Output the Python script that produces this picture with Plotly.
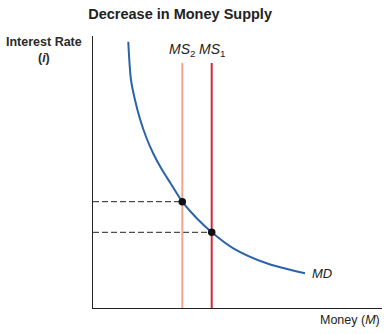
import plotly.graph_objects as go

# MD curve points (x = money, y = interest rate)
md_x = [35.3, 36.3, 38.0, 42.0, 47.0, 53.5, 60.0, 68.0, 78.0, 89.3, 103.0, 118.7, 140.3, 173.7, 212.0]
md_y = [266.3, 248.0, 228.0, 208.0, 189.0, 170.0, 155.0, 140.0, 124.0, 106.3, 90.5, 75.7, 59.7, 44.7, 34.7]

ms_x = [89.3, 118.7]
ms_top = 245.0
ms_colors = ["#f2a68c", "#d02a38"]

eq_x = [89.3, 118.7]
eq_y = [106.3, 75.7]

fig = go.Figure()

# dashed guides
for x, y in zip(eq_x, eq_y):
    fig.add_trace(go.Scatter(x=[0, x], y=[y, y], mode="lines",
                             line=dict(color="#222", width=1, dash="6px,3px"),
                             hoverinfo="skip", showlegend=False))

# MS lines
for x, c in zip(ms_x, ms_colors):
    fig.add_trace(go.Scatter(x=[x, x], y=[0, ms_top], mode="lines",
                             line=dict(color=c, width=2),
                             hoverinfo="skip", showlegend=False))

# MD curve
fig.add_trace(go.Scatter(x=md_x, y=md_y, mode="lines",
                         line=dict(color="#2b63ab", width=2, shape="spline", smoothing=0.8),
                         hoverinfo="skip", showlegend=False))

# equilibrium dots
fig.add_trace(go.Scatter(x=eq_x, y=eq_y, mode="markers",
                         marker=dict(color="#111111", size=7.5),
                         hoverinfo="skip", showlegend=False))

fnt = "Liberation Sans, Arial, sans-serif"
ann = [
    dict(x=ms_x[0], y=ms_top + 2, text="<i>MS</i><sub>2</sub>", showarrow=False,
         xanchor="center", yanchor="bottom", font=dict(size=14, family=fnt, color="#222")),
    dict(x=ms_x[1], y=ms_top + 2, text="<i>MS</i><sub>1</sub>", showarrow=False,
         xanchor="center", yanchor="bottom", font=dict(size=14, family=fnt, color="#222")),
    dict(x=md_x[-1] + 5, y=md_y[-1], text="<i>MD</i>", showarrow=False,
         xanchor="left", yanchor="middle", font=dict(size=13, family=fnt, color="#222")),
    dict(xref="paper", yref="paper", x=1.0, y=-0.01, text="Money (<i>M</i>)", showarrow=False,
         xanchor="right", yanchor="top", font=dict(size=12.5, family=fnt, color="#222")),
    dict(xref="paper", yref="paper", x=-0.168, y=1.01, text="<b>Interest Rate</b><br><b>(<i>i</i>)</b>",
         showarrow=False, xanchor="center", yanchor="top", align="center",
         font=dict(size=12.5, family=fnt, color="#2a2a2a")),
]

fig.update_layout(
    width=389, height=334,
    margin=dict(l=93, r=7, t=36, b=26),
    paper_bgcolor="white", plot_bgcolor="white",
    title=dict(text="<b>Decrease in Money Supply</b>", x=0.463, xanchor="center",
               y=0.958, yanchor="middle", font=dict(size=14.5, family=fnt, color="#222")),
    xaxis=dict(range=[0, 289], showgrid=False, zeroline=False, showticklabels=False,
               ticks="", showline=True, linecolor="#222", linewidth=1, fixedrange=True),
    yaxis=dict(range=[0, 272], showgrid=False, zeroline=False, showticklabels=False,
               ticks="", showline=True, linecolor="#222", linewidth=1, fixedrange=True),
    annotations=ann,
    showlegend=False,
)

fig.write_html("out.html", config={"displayModeBar": False})
